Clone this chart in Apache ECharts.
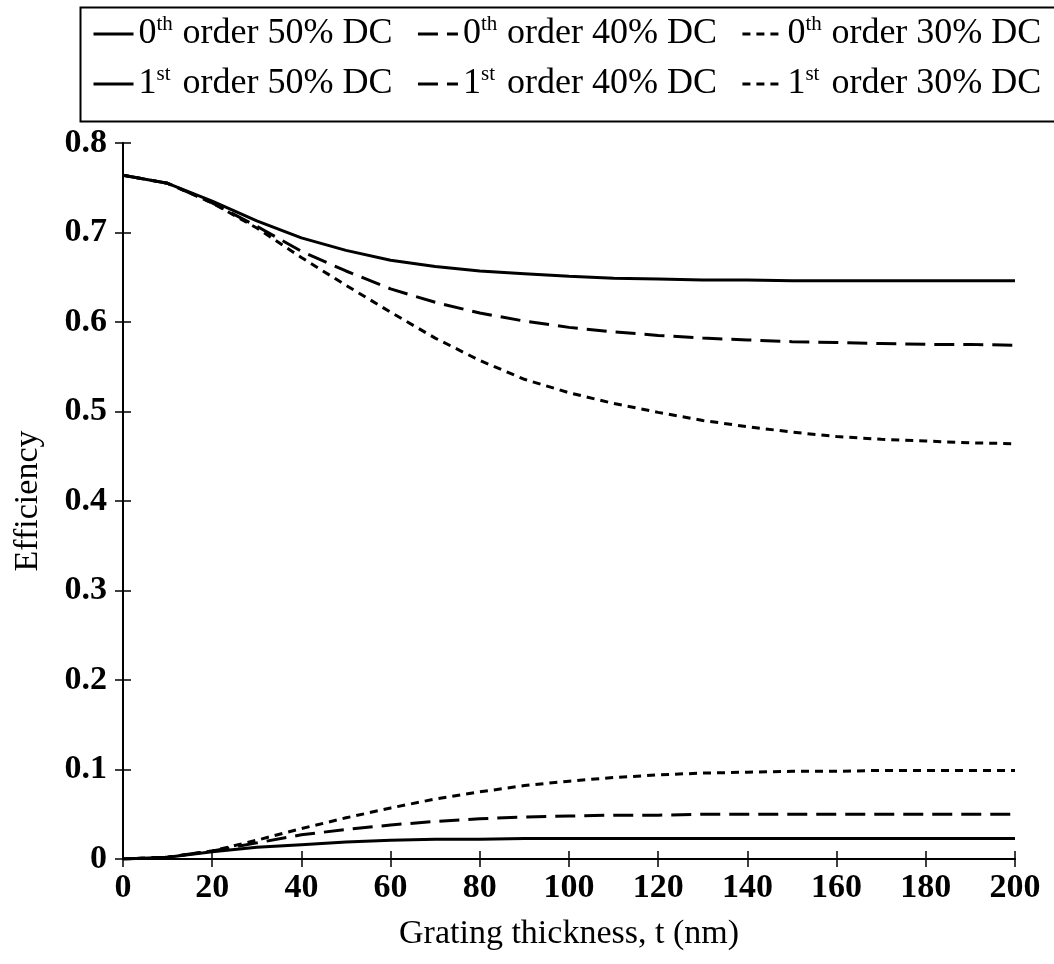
<!DOCTYPE html>
<html>
<head>
<meta charset="utf-8">
<script src="https://cdn.jsdelivr.net/npm/echarts@6/dist/echarts.min.js"></script>
<style>
  html, body { margin: 0; padding: 0; background: #fff; }
  #chart { width: 1054px; height: 964px; }
</style>
</head>
<body>
<div id="chart"></div>
<script>
// grating thickness t (nm)
var thickness = [0, 10, 20, 30, 40, 50, 60, 70, 80, 90, 100, 110, 120, 130, 140, 150, 160, 170, 180, 190, 200];

// 0th order efficiency
var zero50 = [0.764, 0.755, 0.735, 0.713, 0.694, 0.680, 0.669, 0.662, 0.657, 0.654, 0.651, 0.649, 0.648, 0.647, 0.647, 0.646, 0.646, 0.646, 0.646, 0.646, 0.646];
var zero40 = [0.764, 0.755, 0.733, 0.707, 0.679, 0.657, 0.637, 0.622, 0.610, 0.601, 0.594, 0.589, 0.585, 0.582, 0.580, 0.578, 0.577, 0.576, 0.575, 0.575, 0.574];
var zero30 = [0.764, 0.755, 0.733, 0.705, 0.672, 0.641, 0.611, 0.582, 0.557, 0.536, 0.521, 0.509, 0.499, 0.490, 0.483, 0.477, 0.472, 0.469, 0.467, 0.465, 0.464];

// 1st order efficiency
var first50 = [0, 0.002, 0.008, 0.013, 0.016, 0.019, 0.021, 0.022, 0.022, 0.023, 0.023, 0.023, 0.023, 0.023, 0.023, 0.023, 0.023, 0.023, 0.023, 0.023, 0.023];
var first40 = [0, 0.002, 0.009, 0.018, 0.027, 0.033, 0.038, 0.042, 0.045, 0.047, 0.048, 0.049, 0.049, 0.050, 0.050, 0.050, 0.050, 0.050, 0.050, 0.050, 0.050];
var first30 = [0, 0.002, 0.009, 0.021, 0.034, 0.046, 0.057, 0.067, 0.075, 0.082, 0.087, 0.091, 0.094, 0.096, 0.097, 0.098, 0.098, 0.099, 0.099, 0.099, 0.099];

var xTicks = { min: 0, max: 200, interval: 20 };
var yTicks = { min: 0, max: 0.8, interval: 0.1 };

var serif = '"Liberation Serif", "Times New Roman", serif';

// legend name -> [digit, superscript, rest]
var legendParts = {
  '0th order 50% DC': ['0', 'th', ' order 50% DC'],
  '0th order 40% DC': ['0', 'th', ' order 40% DC'],
  '0th order 30% DC': ['0', 'th', ' order 30% DC'],
  '1st order 50% DC': ['1', 'st', ' order 50% DC'],
  '1st order 40% DC': ['1', 'st', ' order 40% DC'],
  '1st order 30% DC': ['1', 'st', ' order 30% DC']
};

function pairs(ys) {
  return thickness.map(function (t, i) { return [t, ys[i]]; });
}

function makeSeries(name, ys, dash) {
  return {
    name: name,
    type: 'line',
    data: pairs(ys),
    symbol: 'none',
    lineStyle: { color: '#000', width: 3, type: dash },
    itemStyle: { color: '#000' },
    z: 3
  };
}

var longDash = [20, 9];
var shortDash = [8, 6];

function makeLegend(top, names) {
  return {
    orient: 'horizontal',
    left: 92,
    top: top,
    padding: 0,
    itemWidth: 40,
    itemHeight: 14,
    itemGap: 24,
    data: names,
    itemStyle: { opacity: 0 },
    lineStyle: { width: 3 },
    formatter: function (name) {
      var p = legendParts[name];
      return '{n|' + p[0] + '}{s|' + p[1] + '}{n|' + p[2] + '}';
    },
    textStyle: {
      color: '#000',
      rich: {
        n: { fontSize: 36, fontFamily: serif, color: '#000', lineHeight: 40 },
        s: { fontSize: 21, fontFamily: serif, color: '#000', lineHeight: 22, width: 17, verticalAlign: 'top' }
      }
    }
  };
}

var chart = echarts.init(document.getElementById('chart'));

var option = {
  backgroundColor: '#fff',
  animation: false,
  graphic: [{
    type: 'rect',
    left: 78,
    top: 5,
    shape: { width: 1060, height: 114 },
    style: { fill: 'none', stroke: '#000', lineWidth: 2 },
    silent: true
  }],
  legend: [
    makeLegend(14, ['0th order 50% DC', '0th order 40% DC', '0th order 30% DC']),
    makeLegend(64, ['1st order 50% DC', '1st order 40% DC', '1st order 30% DC'])
  ],
  grid: {
    left: 123,
    right: 39,
    top: 143,
    bottom: 105,
    outerBoundsMode: 'none'
  },
  xAxis: [{
    type: 'value',
    min: xTicks.min,
    max: xTicks.max,
    interval: xTicks.interval,
    name: 'Grating thickness, t (nm)',
    nameLocation: 'middle',
    nameGap: 58,
    nameTextStyle: { fontSize: 34, fontFamily: serif, color: '#000' },
    axisLine: { onZero: false, lineStyle: { color: '#000', width: 2 } },
    axisTick: { inside: true, length: 8, lineStyle: { color: '#000', width: 1.5 } },
    axisLabel: { fontSize: 34, fontFamily: serif, fontWeight: 'bold', color: '#000', margin: 12 },
    splitLine: { show: false }
  }, {
    type: 'value',
    position: 'top',
    min: xTicks.min,
    max: xTicks.max,
    interval: xTicks.interval,
    axisLine: { lineStyle: { color: '#000', width: 2 } },
    axisTick: { inside: true, length: 8, lineStyle: { color: '#000', width: 1.5 } },
    axisLabel: { show: false },
    splitLine: { show: false }
  }],
  yAxis: [{
    type: 'value',
    min: yTicks.min,
    max: yTicks.max,
    interval: yTicks.interval,
    name: 'Efficiency',
    nameLocation: 'middle',
    nameGap: 78,
    nameTextStyle: { fontSize: 34, fontFamily: serif, color: '#000' },
    axisLine: { show: true, onZero: false, lineStyle: { color: '#000', width: 2 } },
    axisTick: { show: true, inside: true, length: 8, lineStyle: { color: '#000', width: 1.5 } },
    axisLabel: { fontSize: 34, fontFamily: serif, fontWeight: 'bold', color: '#000', margin: 16 },
    splitLine: { show: false }
  }, {
    type: 'value',
    position: 'right',
    min: yTicks.min,
    max: yTicks.max,
    interval: yTicks.interval,
    axisLine: { show: true, lineStyle: { color: '#000', width: 2 } },
    axisTick: { show: true, inside: true, length: 8, lineStyle: { color: '#000', width: 1.5 } },
    axisLabel: { show: false },
    splitLine: { show: false }
  }],
  series: [
    makeSeries('0th order 50% DC', zero50, 'solid'),
    makeSeries('0th order 40% DC', zero40, longDash),
    makeSeries('0th order 30% DC', zero30, shortDash),
    makeSeries('1st order 50% DC', first50, 'solid'),
    makeSeries('1st order 40% DC', first40, longDash),
    makeSeries('1st order 30% DC', first30, shortDash)
  ]
};

chart.setOption(option);
</script>
</body>
</html>
